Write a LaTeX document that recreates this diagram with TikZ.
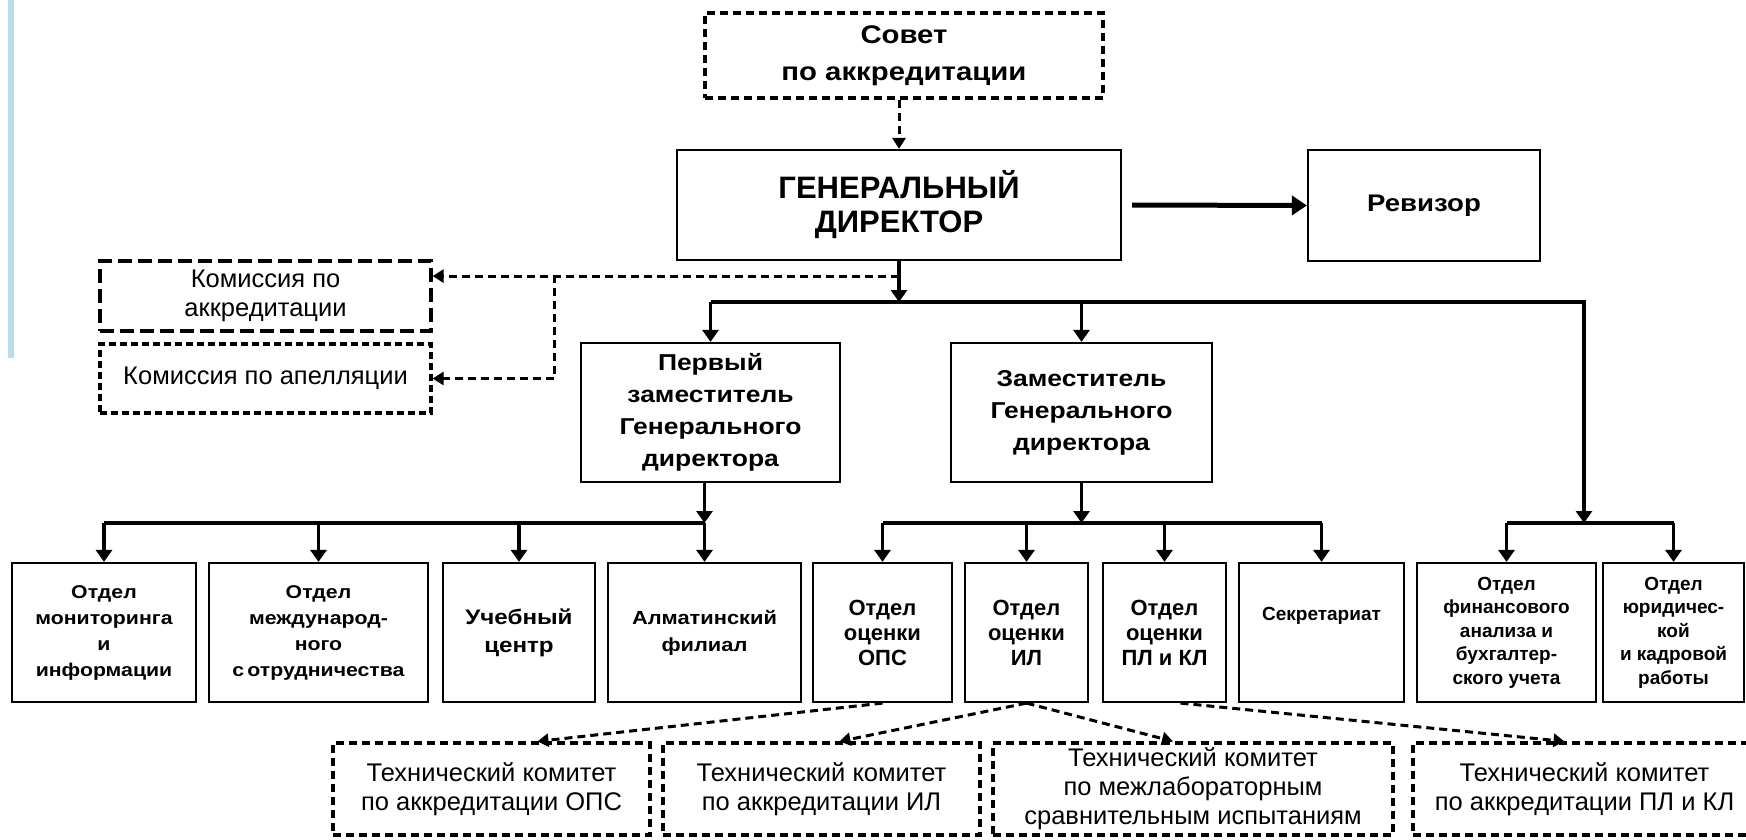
\documentclass[tikz,border=0pt]{standalone}
\usepackage{fontspec}
\setmainfont{Liberation Sans}
\newfontfamily\widefont{Liberation Sans}[FakeStretch=1.15]
\usetikzlibrary{arrows.meta}
\definecolor{barteal}{RGB}{183,222,228}

\begin{document}
\begin{tikzpicture}[x=1pt,y=-1pt,
	box/.style={draw, line width=2.2pt, inner sep=0pt, align=center},
	dbox/.style={draw, line width=3.2pt, dash pattern=on 8pt off 5pt, inner sep=0pt, align=center},
	arr/.style={line width=3.8pt, -{Triangle[length=12pt,width=16pt]}},
	bus/.style={line width=3.6pt},
	darr/.style={line width=3pt, dash pattern=on 8pt off 5pt, -{Triangle[length=11pt,width=13pt]}},
	headtxt/.style={font=\widefont\bfseries\fontsize{23}{32}\selectfont},
	deptxt/.style={font=\widefont\bfseries\fontsize{18.5}{26}\selectfont},
	evaltxt/.style={font=\bfseries\fontsize{22}{25}\selectfont},
	smalltxt/.style={font=\bfseries\fontsize{19}{23.5}\selectfont},
	plaintxt/.style={font=\fontsize{25.5}{29}\selectfont}]
	\fill[white] (0,0) rectangle (1746,839);
	\useasboundingbox (0,0) rectangle (1746,839);
	\fill[barteal] (8,0) rectangle (14,358);

	\node[dbox, font=\widefont\bfseries\fontsize{25.5}{37}\selectfont, minimum width=398pt, minimum height=85pt] (sovet) at (904,55.5) {Совет\\по аккредитации};
	\node[box, font=\bfseries\fontsize{31}{34}\selectfont, minimum width=444pt, minimum height=110pt] (gd) at (899,205) {ГЕНЕРАЛЬНЫЙ\\ДИРЕКТОР};
	\node[box, font=\widefont\bfseries\fontsize{24}{28}\selectfont, minimum width=232pt, minimum height=111pt] (rev) at (1424,205.5) {Ревизор};
	\node[dbox, plaintxt, dash pattern=on 14pt off 6pt, minimum width=331pt, minimum height=70pt] (kak) at (265.5,296) {Комиссия по\\аккредитации};
	\node[dbox, plaintxt, dash pattern=on 7pt off 4pt, minimum width=331pt, minimum height=69pt] (kap) at (265.5,378.5) {Комиссия по апелляции};
	\node[box, headtxt, minimum width=259pt, minimum height=139pt] (pz) at (710.5,412.5) {Первый\\заместитель\\Генерального\\директора};
	\node[box, headtxt, minimum width=261pt, minimum height=139pt] (zam) at (1081.5,412.5) {Заместитель\\Генерального\\директора};

	\node[box, deptxt, minimum width=184pt, minimum height=139pt] (d1) at (104,632.5) {Отдел\\мониторинга\\и\\информации};
	\node[box, deptxt, minimum width=219pt, minimum height=139pt] (d2) at (318.5,632.5) {Отдел\\международ-\\ного\\с\,отрудничества};
	\node[box, font=\widefont\bfseries\fontsize{21}{28}\selectfont, minimum width=152pt, minimum height=139pt] (d3) at (519,632.5) {Учебный\\центр};
	\node[box, font=\widefont\bfseries\fontsize{19}{27}\selectfont, minimum width=193pt, minimum height=139pt] (d4) at (704.5,632.5) {Алматинский\\филиал};
	\node[box, evaltxt, minimum width=139pt, minimum height=139pt] (d5) at (882.5,632.5) {Отдел\\оценки\\ОПС};
	\node[box, evaltxt, minimum width=123pt, minimum height=139pt] (d6) at (1026.5,632.5) {Отдел\\оценки\\ИЛ};
	\node[box, evaltxt, minimum width=123pt, minimum height=139pt] (d7) at (1164.5,632.5) {Отдел\\оценки\\ПЛ и КЛ};
	\node[box, smalltxt, minimum width=165pt, minimum height=139pt] (d8) at (1321.5,632.5) {Секретариат\\[14pt]};
	\node[box, smalltxt, minimum width=179pt, minimum height=139pt] (d9) at (1506.5,632.5) {Отдел\\финансового\\анализа и\\бухгалтер-\\ского учета};
	\node[box, smalltxt, minimum width=141pt, minimum height=139pt] (d10) at (1673.5,632.5) {Отдел\\юридичес-\\кой\\и кадровой\\работы};

	\node[dbox, plaintxt, minimum width=317pt, minimum height=92pt] (c1) at (491.5,789) {Технический комитет\\по аккредитации ОПС};
	\node[dbox, plaintxt, minimum width=317pt, minimum height=92pt] (c2) at (821.5,789) {Технический комитет\\по аккредитации ИЛ};
	\node[dbox, plaintxt, minimum width=400pt, minimum height=92pt] (c3) at (1193,789) {Технический комитет\\по межлабораторным\\сравнительным испытаниям};
	\node[dbox, plaintxt, minimum width=343pt, minimum height=92pt] (c4) at (1584.5,789) {Технический комитет\\по аккредитации ПЛ и КЛ};

	\coordinate (bus1) at (0,302);
	\coordinate (bus2) at (0,523);
	\coordinate (fj) at (1584,523);
	\coordinate (kv) at (554,275);
	\path (gd.south) ++(0,15) coordinate (kj);

	\draw[darr] (gd.north |- sovet.south) -- (gd.north);
	\draw[line width=5pt, -{Triangle[length=15pt,width=19pt]}] ([xshift=10pt]gd.east) -- (rev.west);
	\draw[arr] (gd.south) -- (gd.south |- bus1);
	\draw[arr] (pz.north |- bus1) -| (fj);
	\draw[arr] (pz.north |- bus1) -- (pz.north);
	\draw[arr] (zam.north |- bus1) -- (zam.north);

	\draw[darr] (kj) -- (kak.east |- kj);
	\draw[darr] (kv) |- (kap.east);

	\draw[arr] (d4 |- pz.south) -- (d4 |- bus2);
	\draw[bus] (d1 |- bus2) -- (d4 |- bus2);
	\foreach \d in {d1,d2,d3,d4}
		\draw[arr] (\d |- bus2) -- (\d.north);
	\draw[arr] (zam.south) -- (zam.south |- bus2);
	\draw[bus] (d5 |- bus2) -- (d8 |- bus2);
	\foreach \d in {d5,d6,d7,d8}
		\draw[arr] (\d |- bus2) -- (\d.north);
	\draw[bus] (d9 |- bus2) -- (d10 |- bus2);
	\foreach \d in {d9,d10}
		\draw[arr] (\d |- bus2) -- (\d.north);

	\draw[darr] (d5.south) -- ([xshift=46pt]c1.north);
	\draw[darr] (d6.south) -- ([xshift=18pt]c2.north);
	\draw[darr] (d6.south) -- ([xshift=-20pt]c3.north);
	\draw[darr] ([xshift=16pt]d7.south) -- ([xshift=-20pt]c4.north);
\end{tikzpicture}
\end{document}
